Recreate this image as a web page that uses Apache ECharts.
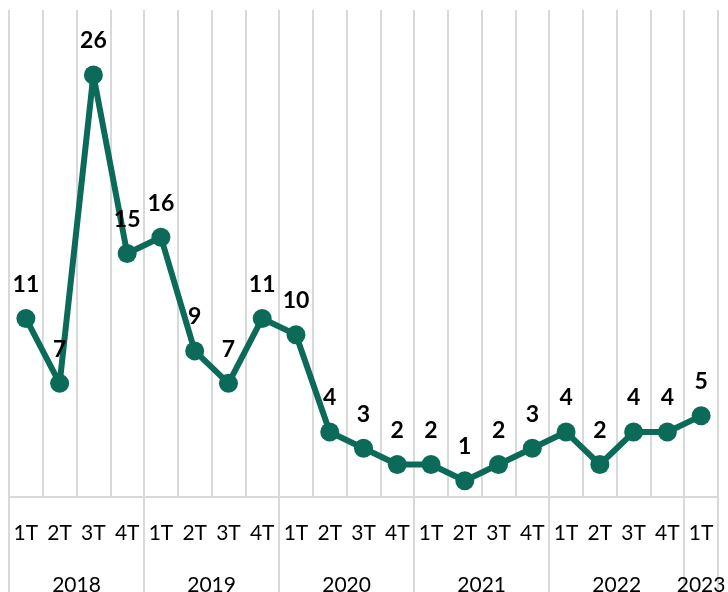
<!DOCTYPE html>
<html>
<head>
<meta charset="utf-8">
<script src="https://cdn.jsdelivr.net/npm/echarts@6/dist/echarts.min.js"></script>
<style>
  html, body { margin: 0; padding: 0; background: #fff; }
  #chart { width: 728px; height: 592px; }
</style>
</head>
<body>
<div id="chart"></div>
<script>
// trimestres 2018 1T .. 2023 1T
var quarters = ['1T', '2T', '3T', '4T', '1T', '2T', '3T', '4T', '1T', '2T', '3T', '4T',
  '1T', '2T', '3T', '4T', '1T', '2T', '3T', '4T', '1T']
var values = [11, 7, 26, 15, 16, 9, 7, 11, 10, 4, 3, 2, 2, 1, 2, 3, 4, 2, 4, 4, 5]
var years = ['2018', '2019', '2020', '2021', '2022', '2023']
var yearSizes = [4, 4, 4, 4, 4, 1]

// eje de años en medios trimestres: etiquetas al centro de cada año, marcas en los bordes
var halfSlots = []
var yearTicks = {}
var pos = 0
for (var i = 0; i <= quarters.length * 2; i++) halfSlots.push('')
yearTicks[0] = true
years.forEach(function (y, k) {
  halfSlots[pos + yearSizes[k]] = y
  pos += yearSizes[k] * 2
  yearTicks[pos] = true
})

var grey = '#d9d9d9'
var green = '#0b6b58'
var font = 'Lato, "Liberation Sans", sans-serif'

var myChart = echarts.init(document.getElementById('chart'))
myChart.setOption({
  animation: false,
  grid: { left: 9, right: 10, top: 10, bottom: 95, containLabel: false, outerBoundsMode: 'none' },
  xAxis: [
    {
      type: 'category',
      position: 'bottom',
      data: quarters,
      axisLine: { lineStyle: { color: grey, width: 2 } },
      axisTick: { show: false },
      axisLabel: { interval: 0, margin: 26, color: '#000', fontSize: 21, fontFamily: font },
      splitLine: { show: true, interval: 0, lineStyle: { color: grey, width: 2 } }
    },
    {
      type: 'category',
      position: 'bottom',
      boundaryGap: false,
      data: halfSlots,
      axisLine: { show: false },
      axisTick: {
        show: true,
        length: 95,
        interval: function (index) { return !!yearTicks[index] },
        lineStyle: { color: grey, width: 2 }
      },
      axisLabel: { interval: 0, margin: 78, color: '#000', fontSize: 21, fontFamily: font },
      splitLine: { show: false }
    }
  ],
  yAxis: {
    type: 'value',
    min: 0,
    max: 30,
    show: false,
    splitLine: { show: false }
  },
  series: [
    {
      type: 'line',
      data: values,
      symbol: 'circle',
      symbolSize: 19,
      lineStyle: { color: green, width: 6 },
      itemStyle: { color: green },
      label: {
        show: true,
        position: 'top',
        distance: 13,
        color: '#000',
        fontSize: 23,
        fontWeight: 'bold',
        fontFamily: font
      }
    }
  ]
})
</script>
</body>
</html>
